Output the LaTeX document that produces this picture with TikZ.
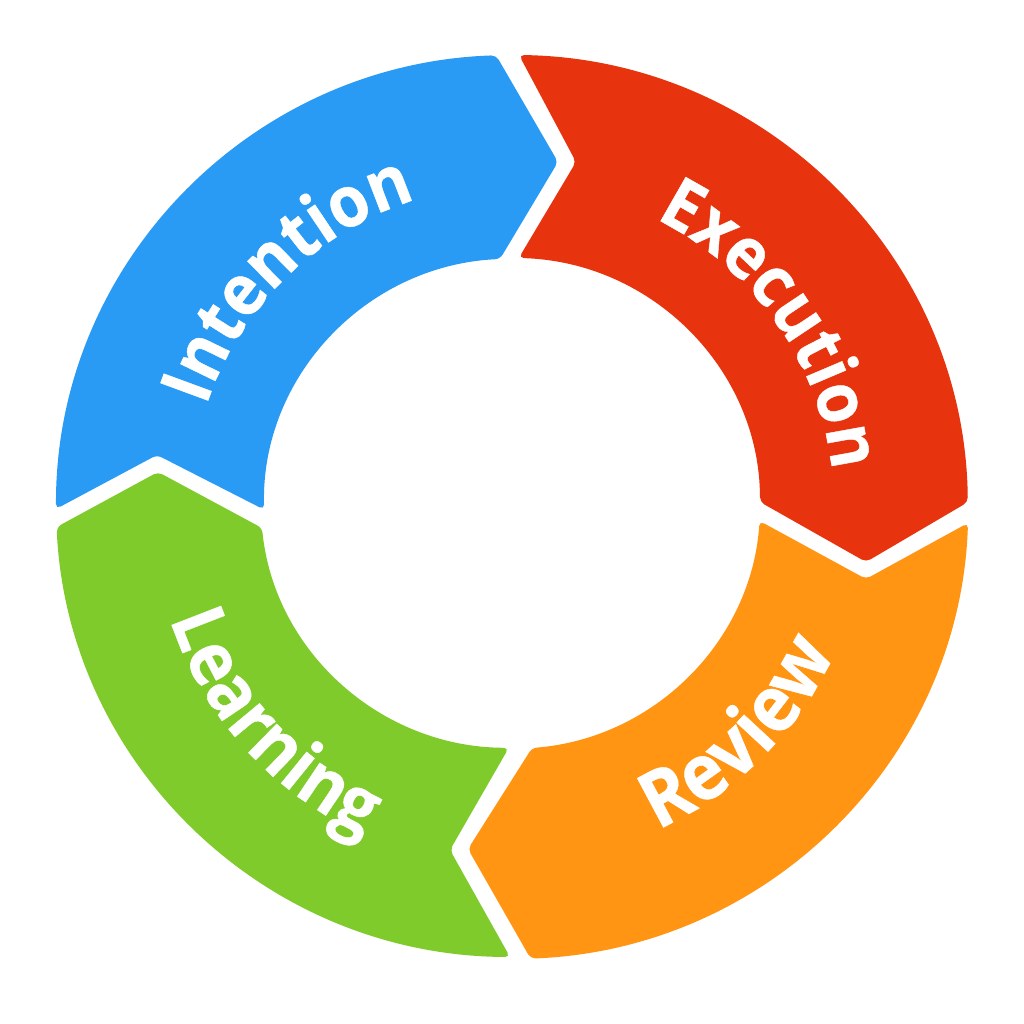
\documentclass[tikz,border=0pt]{standalone}
\usepackage{fontspec}
\setmainfont{Open Sans}[BoldFont={Open Sans Bold},BoldFeatures={FakeStretch=0.92,FakeBold=0.6}]
\usetikzlibrary{decorations.text}
\definecolor{cblue}{HTML}{2A9BF5}
\definecolor{cred}{HTML}{E8340E}
\definecolor{corange}{HTML}{FF9512}
\definecolor{cgreen}{HTML}{7FCB2B}
\newcommand{\lab}{\fontsize{71}{71}\selectfont\bfseries}
\newcommand{\labB}{\fontsize{78}{78}\selectfont\bfseries}
\newcommand{\labC}{\fontsize{74}{74}\selectfont\bfseries}
\tikzset{
  segment/.style={rounded corners=5pt,line join=round},
  labeltext/.style={decorate,decoration={text along path,text align=center,text color=white,text={#1}}}
}
\begin{document}
\begin{tikzpicture}[x=1pt,y=1pt]
\useasboundingbox (0,0) rectangle (1024,1024);
\fill[white] (0,0) rectangle (1024,1024);
\coordinate (oc) at (512,517);
\coordinate (ic) at (511,521);
% Blue
\fill[cblue,segment] (56,515) arc[start angle=180.25,end angle=92,x radius=456,y radius=452]
  -- (558,862) -- (500,765)
  arc[start angle=93,end angle=181.4,x radius=249,y radius=245]
  -- (157,569) -- cycle;
% Red
\fill[cred,segment] (519,969) arc[start angle=89.1,end angle=0.6,x radius=456,y radius=452]
  -- (866,462) -- (760,522)
  arc[start angle=0.2,end angle=88.2,x radius=249,y radius=245]
  -- (576,862) -- cycle;
% Orange
\fill[corange,segment] (968,501) arc[start angle=-2.03,end angle=-87.7,x radius=456,y radius=452]
  -- (468,175) -- (532,276)
  arc[start angle=-85.2,end angle=-4,x radius=249,y radius=245]
  -- (866,445) -- cycle;
% Green
\fill[cgreen,segment] (510,67) arc[start angle=-90.25,end angle=-177.2,x radius=456,y radius=452]
  -- (158,552) -- (262,496)
  arc[start angle=-174.1,end angle=-90.2,x radius=249,y radius=245]
  -- (450,174) -- cycle;
% Labels
\path[labeltext={|\lab|Intention}] ([shift={(184.5:322)}]oc) arc[start angle=184.5,end angle=84.5,radius=322];
\path[labeltext={|\lab|Execution}] ([shift={(85:322)}]oc) arc[start angle=85,end angle=-15,radius=322];
\path[labeltext={|\labB|Review}] ([shift={(-95:354)}]oc) arc[start angle=-95,end angle=5,radius=354];
\path[labeltext={|\labC|Learning}] ([shift={(-188:360)}]oc) arc[start angle=-188,end angle=-88,radius=360];
\end{tikzpicture}
\end{document}
